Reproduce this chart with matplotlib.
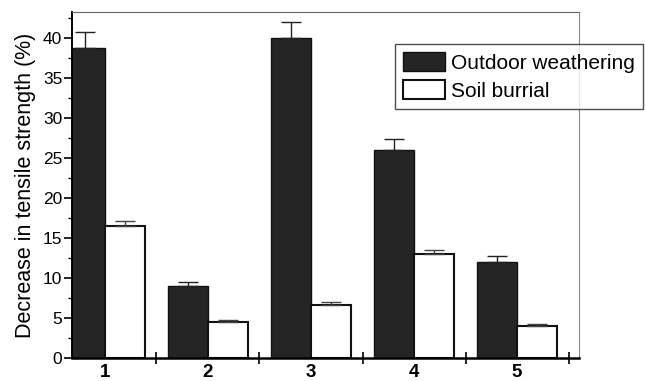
import matplotlib.pyplot as plt
import numpy as np
from matplotlib.ticker import MultipleLocator, FixedLocator

plt.rcParams['font.family'] = ['Liberation Sans', 'DejaVu Sans']

samples = ['1', '2', '3', '4', '5']
outdoor = [38.8, 9.0, 40.1, 26.0, 12.0]
outdoor_err = [2.0, 0.5, 2.0, 1.4, 0.8]
soil = [16.5, 4.5, 6.6, 13.0, 4.0]
soil_err = [0.7, 0.2, 0.4, 0.5, 0.3]

x = np.arange(1, len(samples) + 1)
w = 0.39

fig = plt.figure(figsize=(6.46, 3.81), dpi=100)
ax = fig.add_axes([0.1115, 0.0604, 0.7845, 0.908])

ax.bar(x - w / 2, outdoor, w, color='#252525', edgecolor='#111111', lw=1,
       label='Outdoor weathering', zorder=2)
ax.bar(x + w / 2, soil, w, color='white', edgecolor='#111111', lw=1.5,
       label='Soil burrial', zorder=2)

# upper error bars only
ax.errorbar(x - w / 2, outdoor, yerr=[np.zeros(5), outdoor_err], fmt='none',
            ecolor='#222222', elinewidth=1, capsize=7, capthick=1, zorder=3)
ax.errorbar(x + w / 2, soil, yerr=[np.zeros(5), soil_err], fmt='none',
            ecolor='#444444', elinewidth=1, capsize=7, capthick=1, zorder=3)

ax.set_xlim(0.68, 5.6)
ax.set_ylim(0, 43.3)

ax.set_xticks(x)
ax.set_xticklabels(samples, fontsize=13.5, fontweight='bold')
ax.xaxis.set_minor_locator(FixedLocator(x + 0.5))
ax.tick_params(axis='x', which='major', length=0, pad=4)
ax.tick_params(axis='x', which='minor', direction='inout', length=9, width=1.2)

ax.yaxis.set_major_locator(MultipleLocator(5))
ax.yaxis.set_minor_locator(MultipleLocator(2.5))
ax.tick_params(axis='y', which='major', direction='out', length=6, width=1.2,
               labelsize=12.5, pad=1)
ax.tick_params(axis='y', which='minor', direction='out', length=3, width=1)
ax.set_ylabel('Decrease in tensile strength (%)', fontsize=15.5, labelpad=5)

ax.spines['left'].set_linewidth(1.4)
ax.spines['bottom'].set_linewidth(1.8)
ax.spines['top'].set_linewidth(0.8)
ax.spines['top'].set_color('#666666')
ax.spines['right'].set_linewidth(0.8)
ax.spines['right'].set_color('#888888')

leg = ax.legend(loc='upper left', bbox_to_anchor=(395 / 646, 1 - 44 / 381),
                bbox_transform=fig.transFigure, fontsize=15, frameon=True,
                fancybox=False, handlelength=2.0, handleheight=1.0,
                handletextpad=0.3, labelspacing=0.35, borderpad=0.4,
                borderaxespad=0)
leg.get_frame().set_edgecolor('#222222')
leg.get_frame().set_linewidth(1)

fig.savefig('out.png', dpi=100)
